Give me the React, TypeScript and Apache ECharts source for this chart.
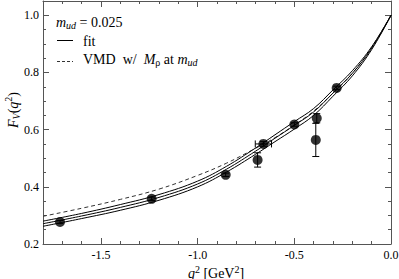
import React, { useEffect, useRef } from 'react';
import * as echarts from 'echarts';

// Lattice data points: q^2 [GeV^2], F_V(q^2), errors
const pointQ2 = [-1.712, -1.238, -0.855, -0.66, -0.69, -0.5, -0.384, -0.389, -0.281];
const pointFV = [0.277, 0.358, 0.442, 0.55, 0.494, 0.618, 0.64, 0.564, 0.746];
const pointErrFV = [0.005, 0.006, 0.006, 0.008, 0.025, 0.006, 0.016, 0.058, 0.006];
const pointErrQ2 = [0, 0, 0, 0.042, 0, 0, 0, 0, 0];

// Curves
const curveQ2 = [-1.8, -1.6, -1.4, -1.2, -1.0, -0.85, -0.7, -0.6, -0.5, -0.4, -0.3, -0.2, -0.1, 0];
const fitCentral = [0.271, 0.298, 0.328, 0.363, 0.41, 0.462, 0.525, 0.57, 0.615, 0.662, 0.728, 0.797, 0.885, 1.0];
const fitUpper = [0.28, 0.307, 0.338, 0.373, 0.42, 0.472, 0.536, 0.582, 0.628, 0.674, 0.739, 0.806, 0.89, 1.0];
const fitLower = [0.262, 0.289, 0.318, 0.353, 0.4, 0.452, 0.514, 0.558, 0.602, 0.65, 0.717, 0.788, 0.88, 1.0];
const vmdCurve = [0.297, 0.325, 0.356, 0.392, 0.44, 0.483, 0.535, 0.572, 0.616, 0.665, 0.728, 0.797, 0.887, 1.0];

// Axis ticks
const xMajorTicks = [-1.5, -1.0, -0.5, 0.0];
const xMinorTicks = [-1.7, -1.6, -1.4, -1.3, -1.2, -1.1, -0.9, -0.8, -0.7, -0.6, -0.4, -0.3, -0.2, -0.1];
const yMajorTicks = [0.2, 0.4, 0.6, 0.8, 1.0];
const yMinorTicks = [0.25, 0.3, 0.35, 0.45, 0.5, 0.55, 0.65, 0.7, 0.75, 0.85, 0.9, 0.95];

const SERIF = 'Liberation Serif';
const AXIS_COLOR = '#555';

function pairs(xs: number[], ys: number[]) {
  return xs.map((x, i) => [x, ys[i]]);
}

function makeXAxis(position: 'top' | 'bottom', major: boolean, showLine: boolean, showLabel: boolean) {
  return {
    type: 'value',
    position,
    min: -1.8,
    max: 0,
    splitLine: { show: false },
    axisLine: { show: showLine, onZero: false, lineStyle: { color: AXIS_COLOR, width: 1 } },
    axisTick: {
      show: true,
      inside: true,
      length: major ? 6 : 3,
      customValues: major ? xMajorTicks : xMinorTicks,
      lineStyle: { color: AXIS_COLOR, width: 1 },
    },
    axisLabel: {
      show: showLabel,
      customValues: xMajorTicks,
      formatter: (v: number) => v.toFixed(1),
      margin: 5,
      fontFamily: SERIF,
      fontSize: 12,
      color: '#000',
    },
  };
}

function makeYAxis(position: 'left' | 'right', major: boolean, showLine: boolean, showLabel: boolean) {
  return {
    type: 'value',
    position,
    min: 0.2,
    max: 1.05,
    splitLine: { show: false },
    axisLine: { show: showLine, onZero: false, lineStyle: { color: AXIS_COLOR, width: 1 } },
    axisTick: {
      show: true,
      inside: true,
      length: major ? 6 : 3,
      customValues: major ? yMajorTicks : yMinorTicks,
      lineStyle: { color: AXIS_COLOR, width: 1 },
    },
    axisLabel: {
      show: showLabel,
      customValues: yMajorTicks,
      formatter: (v: number) => v.toFixed(1),
      margin: 4,
      fontFamily: SERIF,
      fontSize: 12,
      color: '#000',
    },
  };
}

const richStyles = {
  n: { fontFamily: SERIF, fontSize: 14, fill: '#000' },
  i: { fontFamily: SERIF, fontSize: 14, fontStyle: 'italic', fill: '#000' },
  sub: { fontFamily: SERIF, fontSize: 10, fontStyle: 'italic', fill: '#000', padding: [7, 0, 0, 0] },
  subn: { fontFamily: SERIF, fontSize: 10, fill: '#000', padding: [7, 0, 0, 0] },
  sup: { fontFamily: SERIF, fontSize: 10, fill: '#000', padding: [0, 0, 9, 0] },
};

function buildOption() {
  const errData = pointQ2.map((q, i) => [q, pointFV[i], pointErrFV[i], pointErrQ2[i]]);
  const cap = 3.5;
  return {
    animation: false,
    backgroundColor: '#fff',
    grid: { left: 43, right: 8, top: 1, bottom: 35, containLabel: false, outerBoundsMode: 'none' },
    xAxis: [
      makeXAxis('bottom', true, true, true),
      makeXAxis('bottom', false, false, false),
      makeXAxis('top', true, true, false),
      makeXAxis('top', false, false, false),
    ],
    yAxis: [
      makeYAxis('left', true, true, true),
      makeYAxis('left', false, false, false),
      makeYAxis('right', true, true, false),
      makeYAxis('right', false, false, false),
    ],
    series: [
      {
        type: 'line',
        name: 'vmd',
        data: pairs(curveQ2, vmdCurve),
        smooth: 0.4,
        symbol: 'none',
        lineStyle: { color: '#333', width: 1, type: [4, 3] },
        z: 1,
      },
      {
        type: 'line',
        name: 'fit',
        data: pairs(curveQ2, fitCentral),
        smooth: 0.4,
        symbol: 'none',
        lineStyle: { color: '#000', width: 1 },
        z: 1,
      },
      {
        type: 'line',
        name: 'fitUpper',
        data: pairs(curveQ2, fitUpper),
        smooth: 0.4,
        symbol: 'none',
        lineStyle: { color: '#000', width: 1 },
        z: 1,
      },
      {
        type: 'line',
        name: 'fitLower',
        data: pairs(curveQ2, fitLower),
        smooth: 0.4,
        symbol: 'none',
        lineStyle: { color: '#000', width: 1 },
        z: 1,
      },
      {
        type: 'custom',
        name: 'errors',
        data: errData,
        encode: { x: 0, y: 1 },
        z: 2,
        renderItem: (params: any, api: any) => {
          const x = api.value(0);
          const y = api.value(1);
          const ey = api.value(2);
          const ex = api.value(3);
          const style = { stroke: '#000', lineWidth: 1 };
          const children: any[] = [];
          if (ey > 0) {
            const t = api.coord([x, y + ey]);
            const b = api.coord([x, y - ey]);
            children.push({ type: 'line', shape: { x1: t[0], y1: t[1], x2: b[0], y2: b[1] }, style });
            children.push({ type: 'line', shape: { x1: t[0] - cap, y1: t[1], x2: t[0] + cap, y2: t[1] }, style });
            children.push({ type: 'line', shape: { x1: b[0] - cap, y1: b[1], x2: b[0] + cap, y2: b[1] }, style });
          }
          if (ex > 0) {
            const l = api.coord([x - ex, y]);
            const r = api.coord([x + ex, y]);
            children.push({ type: 'line', shape: { x1: l[0], y1: l[1], x2: r[0], y2: r[1] }, style });
            children.push({ type: 'line', shape: { x1: l[0], y1: l[1] - cap, x2: l[0], y2: l[1] + cap }, style });
            children.push({ type: 'line', shape: { x1: r[0], y1: r[1] - cap, x2: r[0], y2: r[1] + cap }, style });
          }
          return { type: 'group', children };
        },
      },
      {
        type: 'scatter',
        name: 'lattice',
        data: pairs(pointQ2, pointFV),
        symbol: 'circle',
        symbolSize: 10,
        itemStyle: { color: '#000' },
        z: 3,
      },
    ],
    graphic: [
      {
        type: 'text',
        x: 56,
        y: 22,
        style: {
          text: '{i|m}{sub|ud}{n| = 0.025}',
          rich: richStyles,
          verticalAlign: 'middle',
          align: 'left',
        },
      },
      {
        type: 'line',
        shape: { x1: 57, y1: 40.5, x2: 73, y2: 40.5 },
        style: { stroke: '#000', lineWidth: 1 },
      },
      {
        type: 'text',
        x: 83,
        y: 41,
        style: { text: '{n|fit}', rich: richStyles, verticalAlign: 'middle', align: 'left' },
      },
      {
        type: 'line',
        shape: { x1: 57, y1: 61.5, x2: 73, y2: 61.5 },
        style: { stroke: '#333', lineWidth: 1, lineDash: [3, 2] },
      },
      {
        type: 'text',
        x: 83,
        y: 59,
        style: {
          text: '{n|VMD  w/  }{i|M}{subn|ρ}{n| at }{i|m}{sub|ud}',
          rich: richStyles,
          verticalAlign: 'middle',
          align: 'left',
        },
      },
      {
        type: 'text',
        x: 216,
        y: 273,
        style: {
          text: '{i|q}{sup|2}{n| [GeV}{sup|2}{n|]}',
          rich: {
            ...richStyles,
            sup: { fontFamily: SERIF, fontSize: 10, fill: '#000', padding: [0, 0, 7, 0] },
          },
          verticalAlign: 'middle',
          align: 'center',
        },
      },
      {
        type: 'text',
        x: 13,
        y: 110,
        rotation: Math.PI / 2,
        style: {
          text: '{i|F}{sub|V}{n|(}{i|q}{sup|2}{n|)}',
          rich: richStyles,
          verticalAlign: 'middle',
          align: 'center',
        },
      },
    ],
  };
}

export default function App() {
  const ref = useRef<HTMLDivElement>(null);
  useEffect(() => {
    if (!ref.current) return;
    const chart = echarts.init(ref.current, null, { renderer: 'svg' });
    chart.setOption(buildOption() as any);
    return () => {
      chart.dispose();
    };
  }, []);
  return (
    <div
      ref={ref}
      style={{ position: 'fixed', left: 0, top: 0, width: 399, height: 279, background: '#fff' }}
    />
  );
}
